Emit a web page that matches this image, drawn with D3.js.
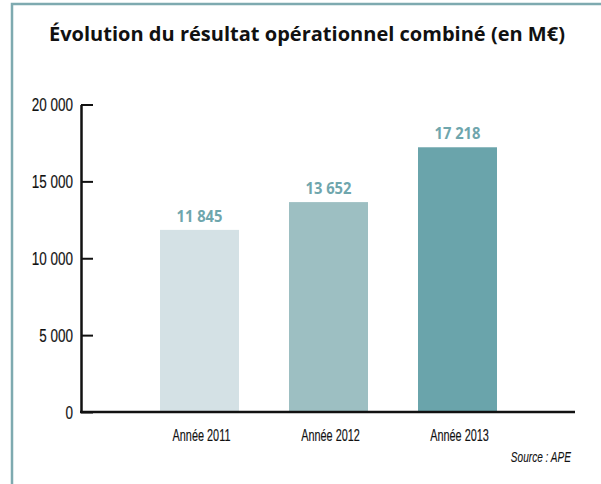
<!DOCTYPE html>
<html>
<head>
<meta charset="utf-8">
<script src="https://cdn.jsdelivr.net/npm/d3@7"></script>
<style>
  body { margin: 0; background: #fff; }
  svg { display: block; }
  .cond { font-family: "Liberation Sans", Arial, sans-serif; stroke: #111; stroke-width: 0.15px; }
</style>
</head>
<body>
<svg id="chart" width="601" height="484"></svg>
<script>
var years = ['Année 2011', 'Année 2012', 'Année 2013'];   // categories
var values = [11845, 13652, 17218];                       // M€
var barColors = ['#d4e1e5', '#9dbfc2', '#6aa4ab'];
var yTicks = [0, 5000, 10000, 15000, 20000];

var svg = d3.select('#chart');

// squeeze text horizontally (no condensed font installed)
function condense(sel, factor) {
  sel.each(function () {
    var w = this.getComputedTextLength();
    d3.select(this).attr('textLength', w * factor).attr('lengthAdjust', 'spacingAndGlyphs');
  });
}

// frame
svg.append('path')
  .attr('d', 'M12,484 V4 H601')
  .attr('fill', 'none')
  .attr('stroke', '#7eaab0')
  .attr('stroke-width', 2.5);

svg.append('text')
  .attr('x', 307)
  .attr('y', 41)
  .attr('text-anchor', 'middle')
  .attr('textLength', 516)
  .attr('lengthAdjust', 'spacingAndGlyphs')
  .attr('style', 'font-family: "Open Sans", sans-serif; font-weight: bold; font-size: 19px; fill: #111;')
  .text('Évolution du résultat opérationnel combiné (en M€)');

var x = d3.scaleBand().domain(years).range([160, 497]).paddingInner(50 / 129).paddingOuter(0);
var y = d3.scaleLinear().domain([0, 20000]).range([412, 104.5]);

var fmt = function (v) { return d3.format(',')(v).replace(/,/g, ' '); };

// bars
svg.selectAll('rect.bar').data(values).enter().append('rect')
  .attr('class', 'bar')
  .attr('x', function (d, i) { return x(years[i]); })
  .attr('y', function (d) { return y(d); })
  .attr('width', x.bandwidth())
  .attr('height', function (d) { return y(0) - y(d); })
  .attr('fill', function (d, i) { return barColors[i]; });

svg.selectAll('text.val').data(values).enter().append('text')
  .attr('class', 'val')
  .attr('x', function (d, i) { return x(years[i]) + x.bandwidth() / 2; })
  .attr('y', function (d) { return y(d) - 8; })
  .attr('text-anchor', 'middle')
  .attr('style', 'font-family: "Open Sans", sans-serif; font-weight: bold; font-size: 15.5px; fill: #6fa6ad;')
  .text(fmt)
  .call(condense, 0.95);

// y axis
var yAxis = svg.append('g')
  .attr('transform', 'translate(81,0)')
  .call(d3.axisLeft(y).tickValues(yTicks).tickSize(-12).tickSizeOuter(0).tickPadding(8).tickFormat(fmt));
yAxis.attr('font-size', null).attr('font-family', null);
yAxis.select('.domain').attr('stroke', '#111').attr('stroke-width', 2.5);
yAxis.selectAll('.tick line').attr('stroke', '#111').attr('stroke-width', 2);
yAxis.selectAll('.tick text')
  .attr('class', 'cond')
  .attr('x', -8)
  .attr('dy', '0.36em')
  .attr('fill', '#111')
  .style('font-size', '17.5px')
  .call(condense, 0.77);

// x axis line
svg.append('line')
  .attr('x1', 80).attr('x2', 575)
  .attr('y1', y(0)).attr('y2', y(0))
  .attr('stroke', '#111').attr('stroke-width', 2.5);

svg.selectAll('text.cat').data(years).enter().append('text')
  .attr('class', 'cond')
  .attr('x', function (d) { return x(d) + x.bandwidth() / 2 + 2; })
  .attr('y', 440.5)
  .attr('text-anchor', 'middle')
  .style('font-size', '16px')
  .attr('fill', '#111')
  .text(function (d) { return d; })
  .call(condense, 0.68);

svg.append('text')
  .attr('class', 'cond')
  .attr('x', 571)
  .attr('y', 462)
  .attr('text-anchor', 'end')
  .style('font-size', '14px')
  .attr('font-style', 'italic')
  .attr('fill', '#111')
  .style('stroke-width', '0.1px')
  .text('Source : APE')
  .call(condense, 0.72);
</script>
</body>
</html>
